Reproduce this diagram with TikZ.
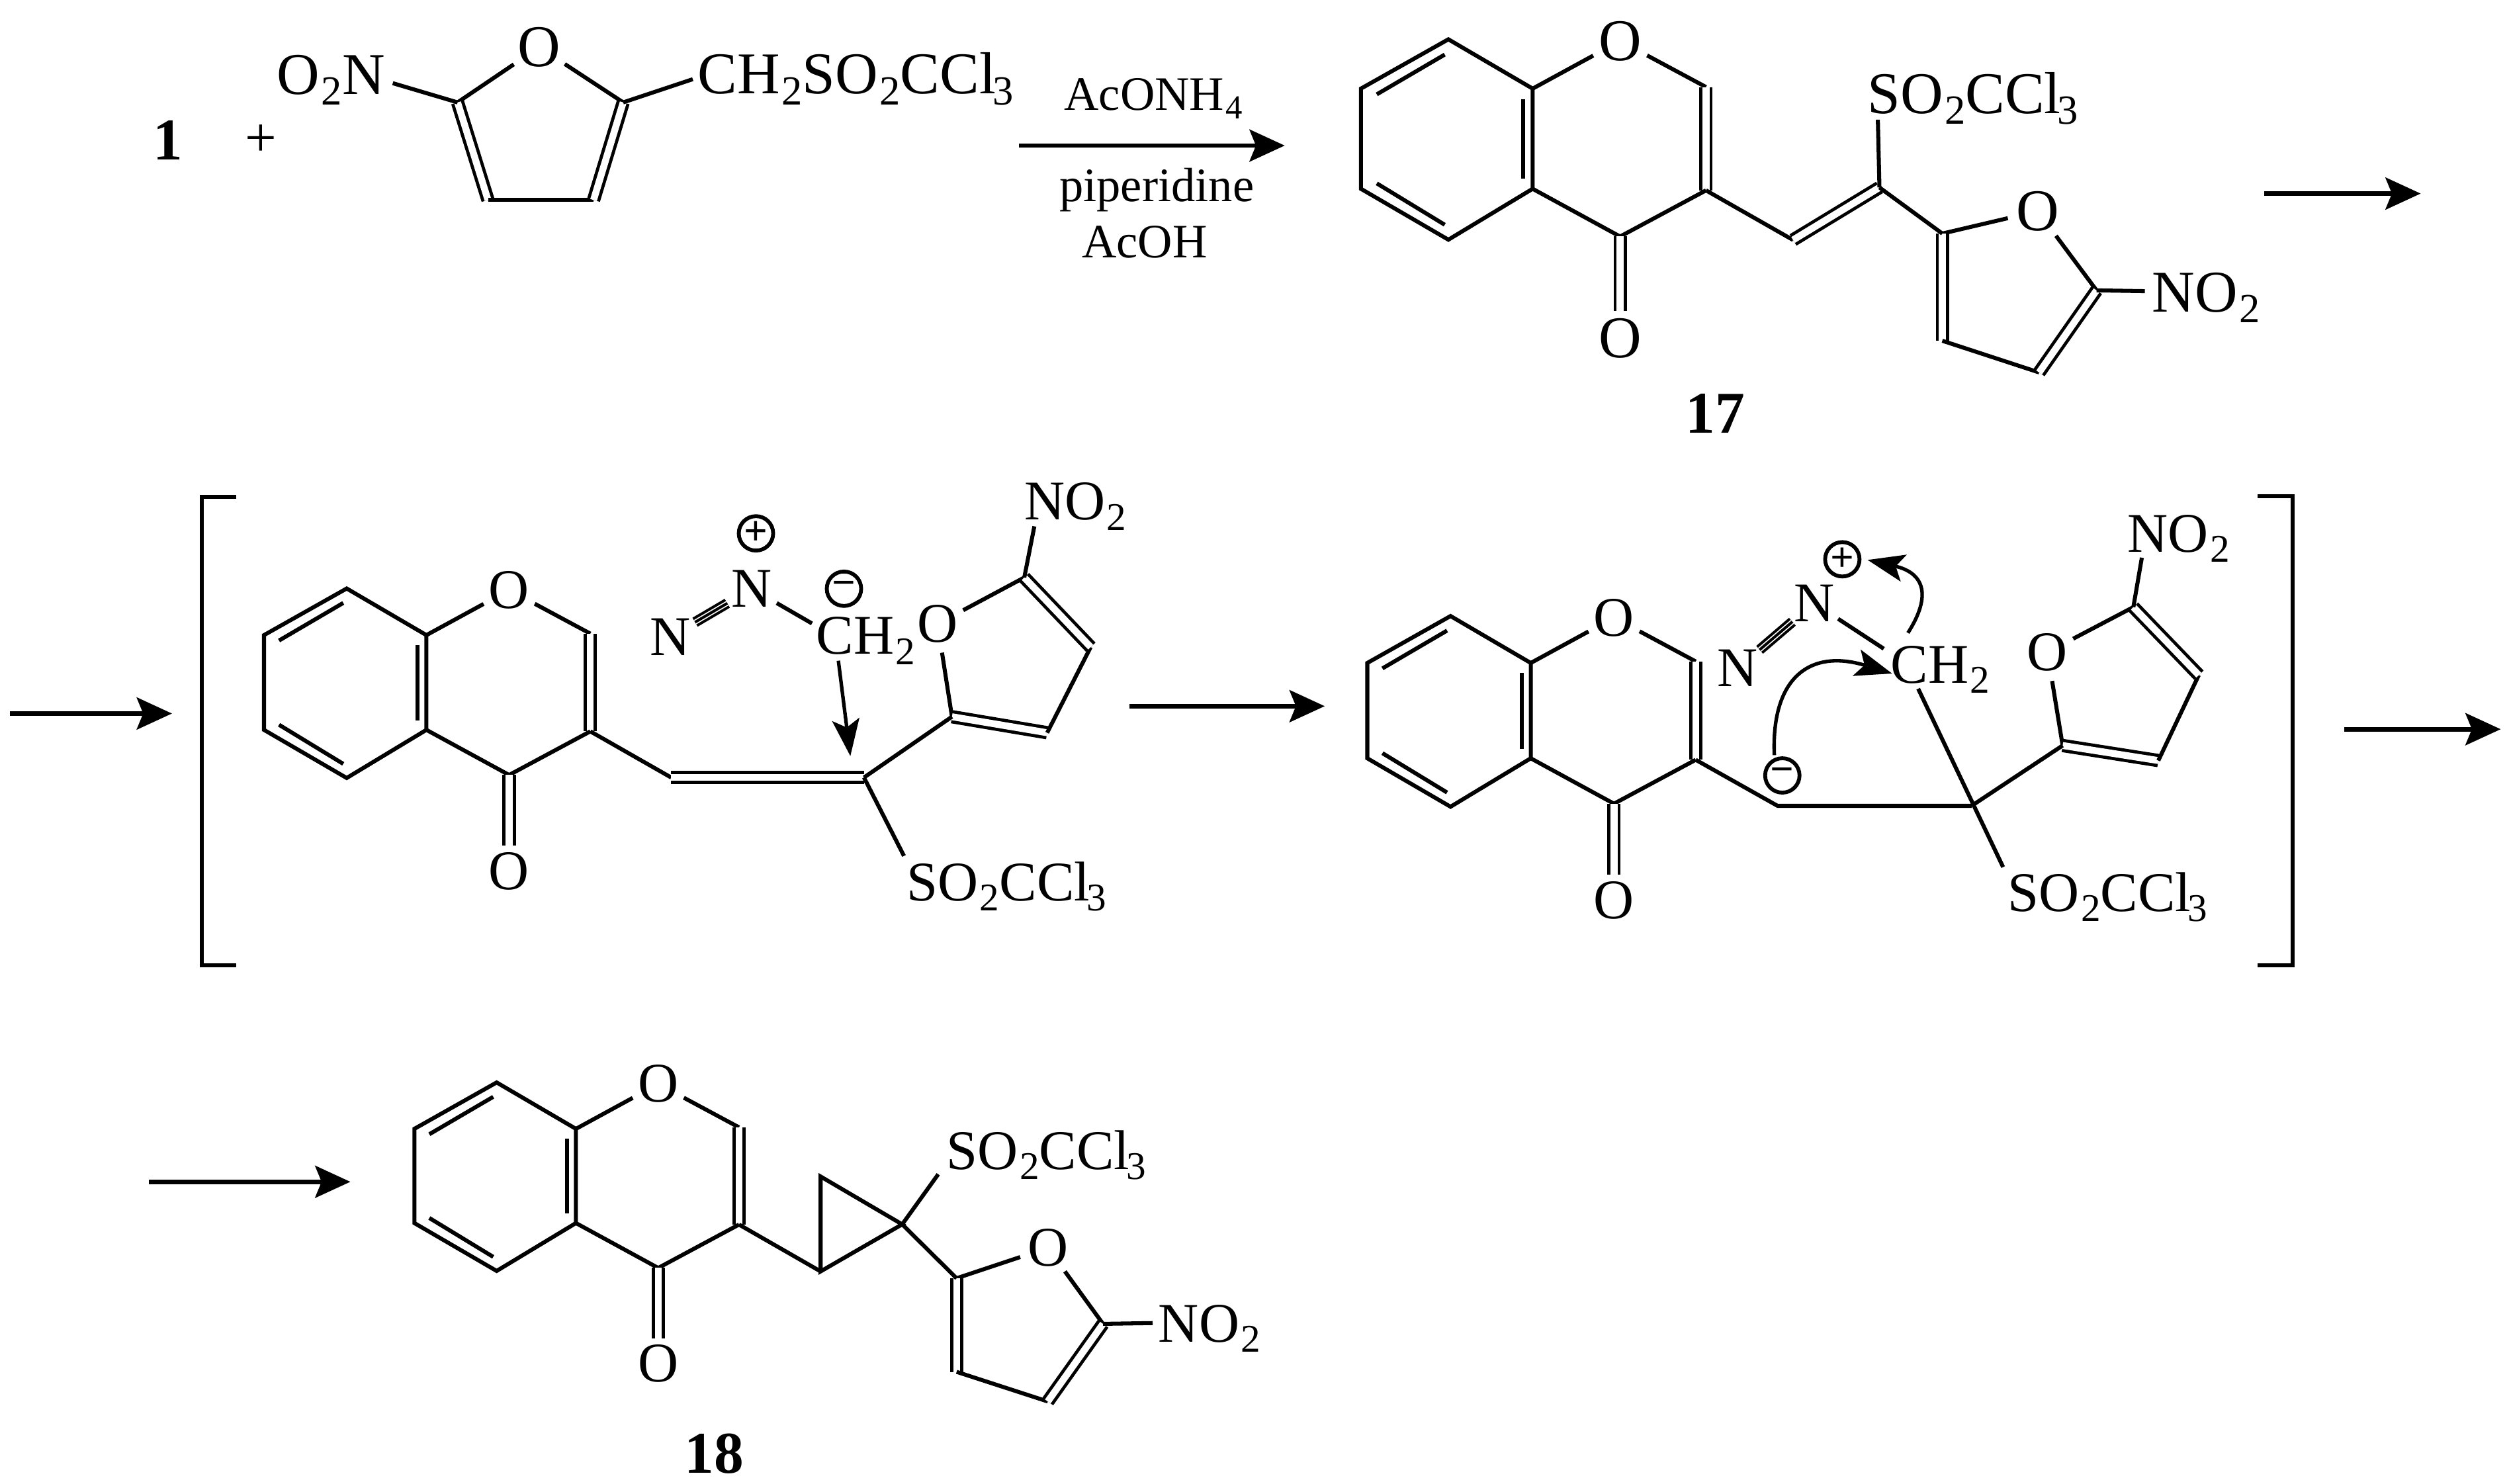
\documentclass[tikz,border=0pt]{standalone}
\usepackage{fontspec}
\setmainfont{Liberation Serif}
\usetikzlibrary{arrows.meta}
\newcommand{\sbs}[1]{\kern1pt\raisebox{-.18em}{\scalebox{.7}{#1}}}
\newcommand{\ccl}{CCl\kern-3pt\sbs{3}}
\newcommand{\furanring}[1]{%
\draw[bond](#12) -- (#1o) -- (#15);
\draw[dbl](#12) -- (#13);
\draw[bond](#13) -- (#14);
\draw[dbl](#14) -- (#15);}
\newcommand{\triplebond}[2]{%
\draw[dbl, line width=1.7pt, double distance=3.1pt](#1) -- (#2);
\draw[bond, line width=1.7pt](#1) -- (#2);}
\tikzset{
bond/.style={line width=2.5pt},
dbl/.style={line width=2pt, double, double distance=4.3pt},
react/.style={line width=2.8pt, -{Stealth[length=22pt, width=20pt, inset=4pt]}},
curly/.style={line width=2.2pt, -{Stealth[length=23pt, width=17pt, inset=5pt]}},
atom/.style={circle, inner sep=.5pt, font=\fontsize{35}{40}\selectfont},
group/.style={anchor=base west, inner sep=0pt, font=\fontsize{35}{40}\selectfont},
bigatoms/.style={atom/.append style={font=\fontsize{37}{42}\selectfont}, group/.append style={font=\fontsize{37}{42}\selectfont}},
reagent/.style={anchor=base west, inner sep=0pt, font=\fontsize{30}{36}\selectfont},
compound/.style={anchor=base, inner sep=0pt, font=\fontsize{37}{42}\selectfont\bfseries},
charge/.style={circle, draw, line width=2.4pt, minimum size=21.5pt, inner sep=0pt, font=\fontsize{26}{26}\selectfont\bfseries},
chromone/.pic={
\coordinate (b1) at (0,0);
\coordinate (b2) at (55,-31);
\coordinate (b3) at (108,0);
\coordinate (b4) at (108,63);
\coordinate (b5) at (55,95);
\coordinate (b6) at (0,63);
\coordinate (c2) at (217,-1);
\coordinate (c3) at (217,64);
\coordinate (c4) at (163,93);
\coordinate (e4) at (163,140);
\coordinate (i1) at (52.7,-21.4);
\coordinate (i2) at (10,3.6);
\coordinate (i3) at (10,59.6);
\coordinate (i4) at (52.7,85.6);
\coordinate (i5) at (102,6.6);
\coordinate (i6) at (102,56.6);
\node[atom] (o1) at (163,-30) {O};
\node[atom] (o4) at (163,157) {O};
\draw[bond](b1) -- (b2) -- (b3) -- (b4) -- (b5) -- (b6) -- cycle;
\draw[bond](i1) -- (i2);
\draw[bond](i3) -- (i4);
\draw[bond](i5) -- (i6);
\draw[bond](b3) -- (o1) -- (c2);
\draw[dbl](c2) -- (c3);
\draw[bond](c3) -- (c4) -- (b4);
\draw[dbl](c4) -- (e4);
}}
\begin{document}
\begin{tikzpicture}[x=1pt, y=-1pt]
\useasboundingbox (0,0) rectangle (1568.2,927.5);
\begin{scope}[bigatoms]
% first row
\node[compound] (one) at (105,99.7) {1};
\node[font=\fontsize{35}{40}\selectfont, inner sep=0pt] (plus) at (163,88) {+};
\node[atom] (fo) at (337,29.5) {O};
\node[group] (fno) at (173,59) {O\sbs{2}N};
\node[group] (fch) at (436,58.7) {CH\sbs{2}SO\sbs{2}\ccl};
\coordinate (f2) at (286,64);
\coordinate (f3) at (305,125);
\coordinate (f4) at (371,125);
\coordinate (f5) at (389.5,64);
\coordinate (fa) at (245.5,52);
\coordinate (fb) at (433,49.5);
\furanring{f}
\draw[bond](fa) -- (f2);
\draw[bond](f5) -- (fb);
\coordinate (ra1) at (637,91);
\coordinate (ra2) at (803,91);
\draw[react](ra1) -- (ra2);
\node[reagent] (rtop) at (665,69) {AcONH\sbs{4}};
\node[reagent] (rmid) at (662,126) {piperidine};
\node[reagent] (rlow) at (676,161) {AcOH};
\pic[scale=.994] (ca) at (850.6,55.4) {chromone};
\node[group] (gs) at (1167,71) {SO\sbs{2}\ccl};
\node[atom] (go) at (1273.6,132) {O};
\node[group] (gn) at (1345,195) {NO\sbs{2}};
\coordinate (v1) at (1120.7,150);
\coordinate (v2) at (1174.7,117.2);
\coordinate (gt) at (1173.7,74.8);
\coordinate (g2) at (1214,146);
\coordinate (g3) at (1214,213);
\coordinate (g4) at (1274.5,232.8);
\coordinate (g5) at (1310.4,181.5);
\coordinate (ge) at (1340.6,182);
\furanring{g}
\draw[bond](cac3) -- (v1);
\draw[dbl](v1) -- (v2);
\draw[bond](v2) -- (gt);
\draw[bond](v2) -- (g2);
\draw[bond](g5) -- (ge);
\node[compound] (c17) at (1072,270.5) {17};
\coordinate (rb1) at (1415.2,121);
\coordinate (rb2) at (1513,121);
\draw[react](rb1) -- (rb2);
\end{scope}
% second row
\coordinate (rc1) at (6,446);
\coordinate (rc2) at (107.5,446);
\draw[react](rc1) -- (rc2);
\coordinate (lb1) at (147.5,310.6);
\coordinate (lb2) at (126,310.6);
\coordinate (lb3) at (126,603.5);
\coordinate (lb4) at (147.5,603.5);
\draw[bond](lb1) -- (lb2) -- (lb3) -- (lb4);
\pic[scale=.94] (cb) at (165,397) {chromone};
\node[atom] (hna) at (419,398) {N};
\node[atom] (hnb) at (470,368) {N};
\node[charge] (hp) at (472.5,333.4) {+};
\node[charge] (hm) at (527.5,368) {−};
\node[group] (hch) at (510,409) {CH\sbs{2}};
\node[atom] (ho) at (586,390) {O};
\node[group] (hn) at (640,325) {NO\sbs{2}};
\node[group] (hs) at (566.5,563) {SO\sbs{2}\ccl};
\coordinate (v3) at (419.5,486);
\coordinate (v4) at (540,486);
\coordinate (h2) at (595,448);
\coordinate (h3) at (654.5,458);
\coordinate (h4) at (681.7,404.5);
\coordinate (h5) at (640.2,361);
\coordinate (he) at (646.5,329);
\coordinate (ht) at (565,535);
\coordinate (hc) at (507.5,389.7);
\coordinate (ha1) at (524,413);
\coordinate (ha2) at (531.5,472.6);
\furanring{h}
\draw[bond](cbc3) -- (v3);
\draw[dbl](v3) -- (v4);
\draw[bond](v4) -- (h2);
\draw[bond](v4) -- (ht);
\draw[bond](h5) -- (he);
\triplebond{hna}{hnb}
\draw[bond](hnb) -- (hc);
\draw[curly](ha1) -- (ha2);
\coordinate (rd1) at (706,441.4);
\coordinate (rd2) at (828,441.4);
\draw[react](rd1) -- (rd2);
\pic[scale=.946] (cc) at (854.6,414.4) {chromone};
\node[atom] (kna) at (1086.2,417.8) {N};
\node[atom] (knb) at (1133.9,377) {N};
\node[charge] (kp) at (1151.5,349.6) {+};
\node[charge] (km) at (1114,484.7) {−};
\node[group] (kch) at (1181.6,427) {CH\sbs{2}};
\node[atom] (ko) at (1279.7,407.7) {O};
\node[group] (kn) at (1329.7,345) {NO\sbs{2}};
\node[group] (ks) at (1254.8,569.5) {SO\sbs{2}\ccl};
\coordinate (v5) at (1111,503.7);
\coordinate (v6) at (1232.3,503.7);
\coordinate (k2) at (1289.2,466);
\coordinate (k3) at (1349,475.4);
\coordinate (k4) at (1374.3,422);
\coordinate (k5) at (1333.4,379.5);
\coordinate (ke) at (1338.7,348.6);
\coordinate (kt) at (1252,542);
\coordinate (kc) at (1177.4,405.5);
\coordinate (kd) at (1198.9,430.5);
\coordinate (ku1) at (1192.5,395.6);
\coordinate (ku2) at (1167.3,350);
\coordinate (kw1) at (1109,472);
\coordinate (kw2) at (1182.6,421);
\furanring{k}
\draw[bond](ccc3) -- (v5) -- (v6);
\draw[bond](v6) -- (k2);
\draw[bond](kd) -- (kt);
\draw[bond](k5) -- (ke);
\triplebond{kna}{knb}
\draw[bond](knb) -- (kc);
\draw[curly](ku1) .. controls (1207.6,372) and (1202.6,358) .. (ku2);
\draw[curly](kw1) .. controls (1107,425) and (1130,405) .. (kw2);
\coordinate (rb3) at (1411,310);
\coordinate (rb4) at (1433.1,310);
\coordinate (rb5) at (1433.1,603.5);
\coordinate (rb6) at (1411,603.5);
\draw[bond](rb3) -- (rb4) -- (rb5) -- (rb6);
\coordinate (re1) at (1465.3,455.8);
\coordinate (re2) at (1563,455.8);
\draw[react](re1) -- (re2);
% third row
\coordinate (rf1) at (92.9,738.7);
\coordinate (rf2) at (219,738.7);
\draw[react](rf1) -- (rf2);
\pic[scale=.935] (cd) at (259,705.6) {chromone};
\node[group] (ms) at (591.4,731) {SO\sbs{2}\ccl};
\node[atom] (mo) at (654.9,780) {O};
\node[group] (mn) at (723.9,838.8) {NO\sbs{2}};
\coordinate (p1) at (512.9,794.7);
\coordinate (p2) at (512.9,735.4);
\coordinate (p3) at (563.9,765.3);
\coordinate (m2) at (597.9,799);
\coordinate (m3) at (597.9,857.5);
\coordinate (m4) at (654.9,876);
\coordinate (m5) at (689.4,827.5);
\coordinate (me) at (720.4,827);
\coordinate (mt) at (586.4,734);
\furanring{m}
\draw[bond](cdc3) -- (p1);
\draw[bond](p1) -- (p2) -- (p3) -- cycle;
\draw[bond](p3) -- (mt);
\draw[bond](p3) -- (m2);
\draw[bond](m5) -- (me);
\node[compound] (c18) at (446.4,920.6) {18};
\end{tikzpicture}
\end{document}
